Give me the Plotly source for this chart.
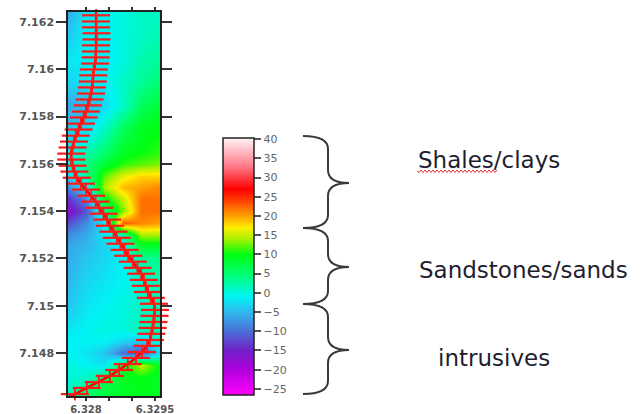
import plotly.graph_objects as go

W, H = 641, 414

# ---------------- data ----------------
grid_x = [6.3276, 6.3280, 6.3284, 6.3288, 6.3292, 6.3296]
grid_y = [7.1625, 7.1615, 7.1605, 7.1595, 7.1585, 7.1575, 7.1565, 7.1560,
          7.1555, 7.1550, 7.1545, 7.1540, 7.1535, 7.1530, 7.1525, 7.1520,
          7.1510, 7.1500, 7.1490, 7.1485, 7.1480, 7.1475, 7.1470, 7.1460]
grid_z = [
    [-6, -2, -1, 0, 1, 1],
    [-4, -1, -1, 0, 1, 2],
    [-2, -1, -2, 0, 2, 3],
    [-3, -2, -1, 1, 3, 5],
    [-6, -5, -3, 1, 6, 8],
    [-4, -3, 1, 6, 9, 10],
    [-1, 2, 5, 9, 10, 11],
    [0, 4, 8, 11, 12, 13],
    [-3, 3, 12, 16, 18, 18],
    [-8, -2, 14, 19, 20, 21],
    [-14, -8, 9, 15, 22, 22],
    [-17, -12, 4, 13, 22, 22],
    [-12, -8, -2, 23, 21, 20],
    [-8, -6, -2, 2, 14, 14],
    [-6, -5, -3, -1, 8, 8],
    [-6, -4, -3, -1, 3, 4],
    [-5, -3, -2, -1, 1, 2],
    [-4, -2, -1, 0, 1, 2],
    [-2, -1, 0, 0, 2, 3],
    [-1, -1, -1, -3, -4, 1],
    [-1, -2, -4, -10, -12, -2],
    [0, -1, -2, 8, 15, 9],
    [0, 1, 5, 9, 10, 9],
    [2, 6, 9, 9, 9, 9],
]

well_x = [6.32822, 6.32822, 6.32822, 6.32822, 6.32823, 6.32823, 6.32822, 6.32822,
          6.32821, 6.32820, 6.32817, 6.32816, 6.32815, 6.32813, 6.32811, 6.32808,
          6.32804, 6.32800, 6.32795, 6.32789, 6.32784, 6.32778, 6.32774, 6.32771,
          6.32768, 6.32768, 6.32771, 6.32775, 6.32780, 6.32789, 6.32800, 6.32811,
          6.32821, 6.32829, 6.32838, 6.32846, 6.32852, 6.32860, 6.32867, 6.32875,
          6.32884, 6.32892, 6.32902, 6.32912, 6.32920, 6.32926, 6.32930, 6.32935,
          6.32941, 6.32948, 6.32950, 6.32949, 6.32947, 6.32945, 6.32942, 6.32939,
          6.32933, 6.32922, 6.32909, 6.32891, 6.32872, 6.32852, 6.32828, 6.32802,
          6.32776, 6.32757]
well_y = [7.16253, 7.16228, 7.16202, 7.16177, 7.16152, 7.16126, 7.16101, 7.16075,
          7.16050, 7.16024, 7.15999, 7.15974, 7.15948, 7.15923, 7.15897, 7.15872,
          7.15847, 7.15821, 7.15796, 7.15770, 7.15745, 7.15719, 7.15694, 7.15669,
          7.15643, 7.15618, 7.15592, 7.15567, 7.15541, 7.15516, 7.15491, 7.15465,
          7.15440, 7.15414, 7.15389, 7.15364, 7.15338, 7.15313, 7.15287, 7.15262,
          7.15236, 7.15211, 7.15186, 7.15160, 7.15135, 7.15109, 7.15084, 7.15058,
          7.15033, 7.15008, 7.14982, 7.14957, 7.14931, 7.14906, 7.14881, 7.14855,
          7.14830, 7.14804, 7.14779, 7.14753, 7.14728, 7.14703, 7.14677, 7.14652,
          7.14626, 7.14609]

y_tickvals = [7.148, 7.150, 7.152, 7.154, 7.156, 7.158, 7.160, 7.162]
y_ticktext = ["7.148", "7.15", "7.152", "7.154", "7.156", "7.158", "7.16", "7.162"]
x_tickvals = [6.328, 6.3285, 6.329, 6.3295]
x_ticktext = ["6.328", "", "", "6.3295"]
cbar_ticks = [-25, -20, -15, -10, -5, 0, 5, 10, 15, 20, 25, 30, 35, 40]
labels = ["Shales/clays", "Sandstones/sands", "intrusives"]

# ---------------- styling ----------------
zmin, zmax = -26.6, 40.3
def n(v):
    return (v - zmin) / (zmax - zmin)

colorscale = [
    [0.0, "#ff00ff"],
    [n(-20), "#b000dd"],
    [n(-15), "#7020c8"],
    [n(-10), "#4a70d8"],
    [n(-5), "#30b8ee"],
    [n(-1), "#00f4f4"],
    [n(5), "#00ff70"],
    [n(10), "#00ff10"],
    [n(14), "#a8f000"],
    [n(17), "#ffee00"],
    [n(20), "#ffa000"],
    [n(24), "#ff4000"],
    [n(27), "#ff0000"],
    [n(33), "#ff7a8a"],
    [1.0, "#fff4f6"],
]

def px(x):
    return x / W

def py(y):
    return 1 - y / H

tick_font = dict(family="DejaVu Sans", size=11, color="#555555", weight="bold")
xtick_font = dict(family="DejaVu Sans", size=10, color="#555555", weight="bold")
RED = "#ff1a1a"

fig = go.Figure()

fig.add_trace(go.Heatmap(
    x=grid_x, y=grid_y, z=grid_z,
    zmin=zmin, zmax=zmax, zsmooth="best",
    colorscale=colorscale,
    colorbar=dict(
        x=px(223), xanchor="left", xpad=0,
        y=py((138 + 395) / 2), yanchor="middle", ypad=0,
        len=(395 - 138) / H, lenmode="fraction",
        thickness=31, thicknessmode="pixels",
        outlinecolor="#222222", outlinewidth=1.5,
        tickvals=cbar_ticks, ticks="outside", ticklen=7, tickwidth=1.5,
        tickcolor="#555555",
        tickfont=dict(family="DejaVu Sans", size=11, color="#666666"),
        borderwidth=0,
    ),
    hoverinfo="skip",
))

fig.add_trace(go.Scatter(
    x=well_x, y=well_y, mode="lines",
    line=dict(color="#ff0000", width=2.5),
    cliponaxis=False, showlegend=False, hoverinfo="skip",
))
fig.add_trace(go.Scatter(
    x=well_x, y=well_y, mode="markers",
    marker=dict(symbol="line-ew-open", size=20, color=RED,
                line=dict(color=RED, width=2.2)),
    cliponaxis=False, showlegend=False, hoverinfo="skip",
))
fig.add_trace(go.Scatter(
    x=well_x, y=well_y, mode="markers",
    marker=dict(symbol="line-ns-open", size=9, color=RED,
                line=dict(color=RED, width=1.8)),
    cliponaxis=False, showlegend=False, hoverinfo="skip",
))

# curly braces
def brace(y0, ym, y1, xe=303, xm=328, xt=349, r=13):
    pts = [
        f"M {px(xe)},{py(y0)}",
        f"Q {px(xm)},{py(y0)} {px(xm)},{py(y0 + r)}",
        f"L {px(xm)},{py(ym - r)}",
        f"Q {px(xm)},{py(ym)} {px(xt)},{py(ym)}",
        f"Q {px(xm)},{py(ym)} {px(xm)},{py(ym + r)}",
        f"L {px(xm)},{py(y1 - r)}",
        f"Q {px(xm)},{py(y1)} {px(xe)},{py(y1)}",
    ]
    return dict(type="path", xref="paper", yref="paper", path=" ".join(pts),
                line=dict(color="#3a3a3a", width=2))

shapes = [brace(136, 183, 228), brace(228, 267, 304), brace(304, 350, 394)]

# spell-check squiggle under "Shales"
zz = [f"M {px(417)},{py(171)}"]
xx = 417
k = 0
while xx < 497:
    xx += 2
    k += 1
    zz.append(f"L {px(xx)},{py(171 + (1.5 if k % 2 else -1.0))}")
shapes.append(dict(type="path", xref="paper", yref="paper", path=" ".join(zz),
                   line=dict(color="#e03030", width=1)))

text_font = dict(family="DejaVu Sans", size=23, color="#1e1e30")
annotations = [
    dict(x=px(416), y=py(160), text=labels[0]),
    dict(x=px(417), y=py(270), text=labels[1]),
    dict(x=px(436), y=py(358), text=labels[2]),
]
for a in annotations:
    a.update(xref="paper", yref="paper", xanchor="left", yanchor="middle",
             showarrow=False, font=text_font)

fig.update_layout(
    width=W, height=H,
    margin=dict(l=0, r=0, t=0, b=0, autoexpand=False),
    paper_bgcolor="white", plot_bgcolor="white",
    showlegend=False,
    shapes=shapes, annotations=annotations,
    xaxis=dict(
        domain=[px(68), px(160)], range=[6.32761, 6.32961],
        tickvals=x_tickvals, ticktext=x_ticktext, automargin=False,
        ticks="outside", ticklen=3, tickwidth=1.5, tickcolor="#333333",
        showline=True, linecolor="#222222", linewidth=1.5, mirror="ticks",
        showgrid=False, zeroline=False, tickfont=xtick_font,
    ),
    yaxis=dict(
        domain=[py(396), py(12)], range=[7.14618, 7.16242],
        tickvals=y_tickvals, ticktext=y_ticktext, automargin=False,
        ticks="outside", ticklen=10, tickwidth=1.5, tickcolor="#333333",
        showline=True, linecolor="#222222", linewidth=1.5, mirror="ticks",
        showgrid=False, zeroline=False, tickfont=tick_font,
    ),
)

fig.write_html(
    "out.html",
    config={"displayModeBar": False},
    post_script="document.body.style.margin='0';document.body.style.padding='0';",
)
